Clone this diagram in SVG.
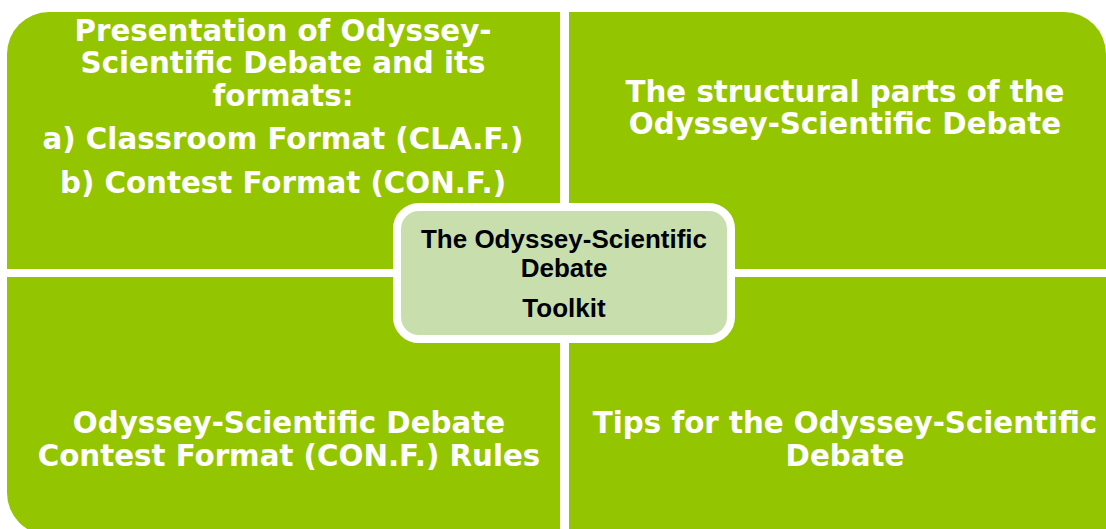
<svg xmlns="http://www.w3.org/2000/svg" width="1106" height="529" viewBox="0 0 1106 529">
<style>
.q{fill:#94C600;}
.t{font-family:"DejaVu Sans","Verdana",sans-serif;font-weight:bold;font-size:29.3px;fill:#FFFFFF;text-anchor:middle;}
.c{font-family:"Liberation Sans",Arial,sans-serif;font-weight:bold;font-size:26px;fill:#000000;text-anchor:middle;}
</style>
<rect width="1106" height="529" fill="#FFFFFF"/>
<g id="connectors"></g>
<g id="node-tl">
<path class="q" d="M7,269 L7,54 A42,42 0 0 1 49,12 L560,12 L560,269 Z"/>
<text class="t" x="283" y="41">Presentation of Odyssey-</text>
<text class="t" x="283" y="73">Scientific Debate and its</text>
<text class="t" x="283" y="106">formats:</text>
<text class="t" x="283" y="149">a) Classroom Format (CLA.F.)</text>
<text class="t" x="283" y="193">b) Contest Format (CON.F.)</text>
</g>
<g id="node-tr">
<path class="q" d="M569,12 L1064,12 A42,42 0 0 1 1106,54 L1106,269 L569,269 Z"/>
<text class="t" x="845" y="102">The structural parts of the</text>
<text class="t" x="845" y="134">Odyssey-Scientific Debate</text>
</g>
<g id="node-bl">
<path class="q" d="M7,277 L560,277 L560,535 L49,535 A42,42 0 0 1 7,493 Z"/>
<text class="t" x="289" y="433">Odyssey-Scientific Debate</text>
<text class="t" x="289" y="466">Contest Format (CON.F.) Rules</text>
</g>
<g id="node-br">
<path class="q" d="M569,277 L1106,277 L1106,535 L569,535 Z"/>
<text class="t" x="845" y="433">Tips for the Odyssey-Scientific</text>
<text class="t" x="845" y="466">Debate</text>
</g>
<g id="node-center">
<rect x="397" y="207" width="334" height="132" rx="22" ry="22" fill="#C8DFAD" stroke="#FFFFFF" stroke-width="8"/>
<text class="c" x="564" y="248">The Odyssey-Scientific</text>
<text class="c" x="564" y="277">Debate</text>
<text class="c" x="564" y="317">Toolkit</text>
</g>
</svg>
